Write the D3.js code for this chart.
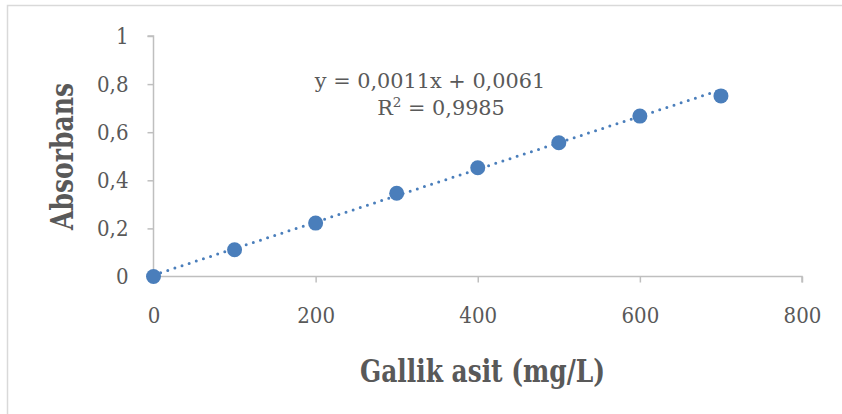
<!DOCTYPE html>
<html>
<head>
<meta charset="utf-8">
<script src="https://cdn.jsdelivr.net/npm/d3@7"></script>
<style>
  html, body { margin: 0; padding: 0; background: #fff; }
  svg { display: block; }
</style>
</head>
<body>
<svg id="chart" width="842" height="414"></svg>
<script>
// Gallic acid calibration: concentration (mg/L) vs absorbance
const concentrations = [0, 100, 200, 300, 400, 500, 600, 700];
const absorbances = [0, 0.111, 0.222, 0.346, 0.452, 0.556, 0.667, 0.751];
const xTicks = [0, 200, 400, 600, 800];
const yTicks = [0, 0.2, 0.4, 0.6, 0.8, 1];
const slope = 0.0011;
const intercept = 0.0061;
const rSquared = 0.9985;
const xTitle = "Gallik asit (mg/L)";
const yTitle = "Absorbans";

const svg = d3.select("#chart");
const blue = "#4a7ebb";
const axisColor = "#bfbfbf";
const textColor = "#595959";
const serif = "'DejaVu Serif', 'Liberation Serif', serif";
const serifNarrow = "'DejaVu Serif Condensed', 'DejaVu Serif', serif";

const x = d3.scaleLinear().domain([0, 800]).range([153.5, 802]);
const y = d3.scaleLinear().domain([0, 1]).range([276.5, 36]);

const comma = v => String(v).replace(".", ",");

// chart area frame (top and left edges)
svg.append("path")
  .attr("d", "M7.5,414 L7.5,5.5 L842,5.5")
  .attr("fill", "none")
  .attr("stroke", "#d9d9d9")
  .attr("stroke-width", 1.5);

// y axis
const yAxis = d3.axisLeft(y).tickValues(yTicks).tickSize(6).tickPadding(19)
  .tickFormat(d => comma(d3.format("")(d)));
const gy = svg.append("g").attr("transform", `translate(${x(0)},0)`).call(yAxis);

// x axis
const xAxis = d3.axisBottom(x).tickValues(xTicks).tickSize(6).tickPadding(25)
  .tickFormat(d3.format("d"));
const gx = svg.append("g").attr("transform", `translate(0,${y(0)})`).call(xAxis);

[gx, gy].forEach(g => {
  g.select(".domain").attr("stroke", axisColor).attr("stroke-width", 1.5);
  g.selectAll(".tick line").attr("stroke", axisColor).attr("stroke-width", 1.5);
  g.selectAll(".tick text")
    .attr("fill", textColor)
    .style("font-family", serifNarrow)
    .style("font-size", "22px");
});
// keep the axis corner free of the outer tick stubs
gy.select(".domain").attr("d", `M-6,${y(1)}H0V${y(0)}`);
gx.select(".domain").attr("d", `M${x(0)},0H${x(800)}V6`);

// linear trendline
const fitX = [0, 700];
svg.append("line")
  .attr("x1", x(fitX[0])).attr("y1", y(slope * fitX[0] + intercept))
  .attr("x2", x(fitX[1])).attr("y2", y(slope * fitX[1] + intercept))
  .attr("stroke", blue)
  .attr("stroke-width", 3)
  .attr("stroke-linecap", "round")
  .attr("stroke-dasharray", "0,7.5");

// data points
svg.append("g").selectAll("circle")
  .data(concentrations.map((c, i) => [c, absorbances[i]]))
  .join("circle")
  .attr("cx", d => x(d[0]))
  .attr("cy", d => y(d[1]))
  .attr("r", 7.5)
  .attr("fill", blue);

// regression label
const eq = svg.append("g")
  .attr("fill", textColor)
  .style("font-family", serif)
  .style("font-size", "20.8px");
eq.append("text")
  .attr("x", 430).attr("y", 88)
  .attr("text-anchor", "middle")
  .text(`y = ${comma(slope)}x + ${comma(intercept)}`);
const r2 = eq.append("text")
  .attr("x", 441).attr("y", 115)
  .attr("text-anchor", "middle");
r2.append("tspan").text("R");
r2.append("tspan").attr("dy", -8).style("font-size", "13.5px").text("2");
r2.append("tspan").attr("dy", 8).text(` = ${comma(rSquared)}`);

// axis titles
svg.append("text")
  .attr("x", 482.5).attr("y", 382)
  .attr("text-anchor", "middle")
  .attr("fill", textColor)
  .style("font-family", serifNarrow)
  .style("font-weight", "bold")
  .style("font-size", "31px")
  .attr("textLength", 245)
  .attr("lengthAdjust", "spacingAndGlyphs")
  .text(xTitle);

svg.append("text")
  .attr("transform", "translate(73.3,156.5) rotate(-90)")
  .attr("text-anchor", "middle")
  .attr("fill", textColor)
  .style("font-family", serifNarrow)
  .style("font-weight", "bold")
  .style("font-size", "31px")
  .attr("textLength", 147)
  .attr("lengthAdjust", "spacingAndGlyphs")
  .text(yTitle);
</script>
</body>
</html>
